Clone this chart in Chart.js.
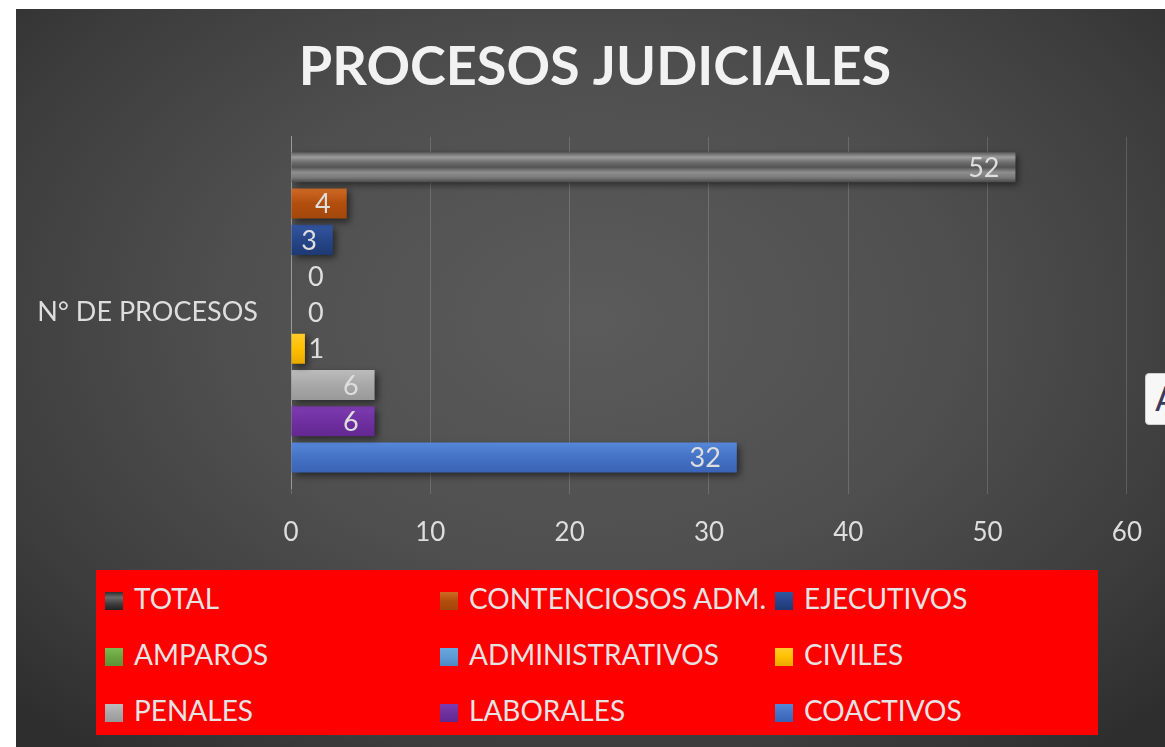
<!DOCTYPE html>
<html>
<head>
<meta charset="utf-8">
<script src="https://cdn.jsdelivr.net/npm/chart.js@4.4.1/dist/chart.umd.min.js"></script>
<style>
html,body{margin:0;padding:0;background:#fff;}
#panel{position:absolute;left:16px;top:9px;width:1149px;height:738px;overflow:hidden;
  background:radial-gradient(ellipse 70% 75% at 50% 42%,#5b5b5b 0%,#4f4f4f 45%,#3c3c3c 80%,#2e2e2e 100%);}
#cv{position:absolute;left:0;top:0;}
#legend{position:absolute;left:80px;top:561px;width:1002px;height:165px;background:#ff0000;
  font-family:Lato,"Open Sans",sans-serif;font-size:28px;color:#e4e4e4;}
.li{position:absolute;height:30px;line-height:30px;white-space:nowrap;}
.li i{display:inline-block;width:18px;height:18px;vertical-align:-1px;margin-right:11px;}
#tip{position:absolute;left:1129px;top:364px;width:60px;height:50px;background:#f7f7f7;border:1px solid #cfcfcf;
  border-radius:4px;font-family:"DejaVu Sans",sans-serif;font-size:34px;line-height:50px;padding-left:9px;color:#3a3a5a;}
</style>
</head>
<body>
<div id="panel">
  <canvas id="cv" width="1149" height="738"></canvas>
  <div id="legend"></div>
  <div id="tip">A</div>
</div>
<script>
// ---- data ----
const categories = ["N° DE PROCESOS"];
const seriesNames = ["TOTAL","CONTENCIOSOS ADM.","EJECUTIVOS","AMPAROS","ADMINISTRATIVOS","CIVILES","PENALES","LABORALES","COACTIVOS"];
const seriesValues = [52,4,3,0,0,1,6,6,32];
const axisMin = 0, axisMax = 60, axisStep = 10;

// ---- styles ----
const seriesColors = [
  ["#5a5a5a","#9c9c9c","#6e6e6e","#545454","#8e8e8e","#7b7b7b","#4a4a4a"],
  ["#cf6a25","#b24e0d","#a2470b"],
  ["#3356a0","#27468a","#1e3a73"],
  ["#7cba52","#6aa43f","#5d9437"],
  ["#6aa6dc","#5b9bd5","#4c89c2"],
  ["#ffcb2a","#ffc000","#e9a900"],
  ["#bcbcbc","#a8a8a8","#999999"],
  ["#7d3bb0","#7030a0","#622890"],
  ["#5687d8","#4472c4","#3a63b4"]
];
const TXT = "#dedede";
const FONT = "Lato, 'Open Sans', sans-serif";

function grad(ctx, y0, y1, stops){
  const g = ctx.createLinearGradient(0, y0, 0, y1);
  stops.forEach((c,i)=>g.addColorStop(i/(stops.length-1), c));
  return g;
}

// shade bars with a vertical gradient + soft shadow (like the office bevel)
const barShade = {
  id:"barShade",
  afterLayout(chart){
    // the title sits centred over the whole picture, not the plot
    chart.titleBlock.left = 43;
  },
  beforeDatasetsDraw(chart){
    const ctx = chart.ctx;
    chart.data.datasets.forEach((ds,i)=>{
      chart.getDatasetMeta(i).data.forEach(bar=>{
        const h = bar.height, y0 = bar.y - h/2;
        bar.options.backgroundColor = grad(ctx, y0, y0+h, seriesColors[i]);
      });
    });
    ctx.save();
    ctx.shadowColor = "rgba(0,0,0,0.55)";
    ctx.shadowBlur = 7; ctx.shadowOffsetX = 3; ctx.shadowOffsetY = 3;
  },
  afterDatasetsDraw(chart){
    chart.ctx.restore();
    // value labels
    const ctx = chart.ctx;
    ctx.save();
    ctx.font = "27px " + FONT;
    ctx.fillStyle = TXT;
    ctx.textBaseline = "middle";
    chart.data.datasets.forEach((ds,i)=>{
      chart.getDatasetMeta(i).data.forEach((bar,j)=>{
        const v = ds.data[j], s = String(v);
        const tw = ctx.measureText(s).width, w = bar.x - bar.base;
        if (tw + 24 < w){ ctx.textAlign = "right"; ctx.fillText(s, bar.x - 16, bar.y + 1); }
        else { ctx.textAlign = "left"; ctx.fillText(s, Math.max(bar.x + 3, bar.base + 17), bar.y + 1); }
      });
    });
    ctx.restore();
  }
};

const datasets = seriesNames.map((n,i)=>({
  label:n, data:[seriesValues[i]], backgroundColor:seriesColors[i][1], borderWidth:0,
  barPercentage:0.83, categoryPercentage:0.93
}));

const chart = new Chart(document.getElementById("cv").getContext("2d"),{
  type:"bar",
  data:{ labels:categories, datasets },
  plugins:[barShade],
  options:{
    indexAxis:"y", animation:false, responsive:false, maintainAspectRatio:false,
    layout:{ padding:{ left:0, right:34, top:0, bottom:199 } },
    plugins:{
      legend:{ display:false }, tooltip:{ enabled:false },
      title:{ display:true, text:"PROCESOS JUDICIALES", color:"#f2f2f2",
        font:{ family:FONT, size:54, weight:"bold" }, padding:{ top:26, bottom:37 } }
    },
    scales:{
      x:{ min:axisMin, max:axisMax,
        ticks:{ stepSize:axisStep, color:TXT, font:{ family:FONT, size:26 }, padding:23 },
        grid:{ color:"rgba(255,255,255,0.16)", tickLength:6 },
        border:{ display:false },
        afterFit(s){ s.height = 60; } },
      y:{ ticks:{ color:TXT, font:{ family:FONT, size:27 }, padding:33 },
        grid:{ display:false, drawTicks:false },
        border:{ display:true, color:"#9a9a9a", width:1 },
        afterFit(s){ s.width = 275; } }
    }
  }
});

// legend in the red box, three columns
const lg = document.getElementById("legend");
seriesNames.forEach((n,i)=>{
  const d = document.createElement("div");
  d.className = "li";
  d.style.left = (9 + (i%3)*335) + "px";
  d.style.top = (13 + Math.floor(i/3)*56) + "px";
  const st = seriesColors[i];
  d.innerHTML = `<i style="background:linear-gradient(${i===0?"#2e2e2e,#6a6a6a 30%,#3a3a3a 70%,#222":st.join(",")})"></i>${n}`;
  lg.appendChild(d);
});
</script>
</body>
</html>
